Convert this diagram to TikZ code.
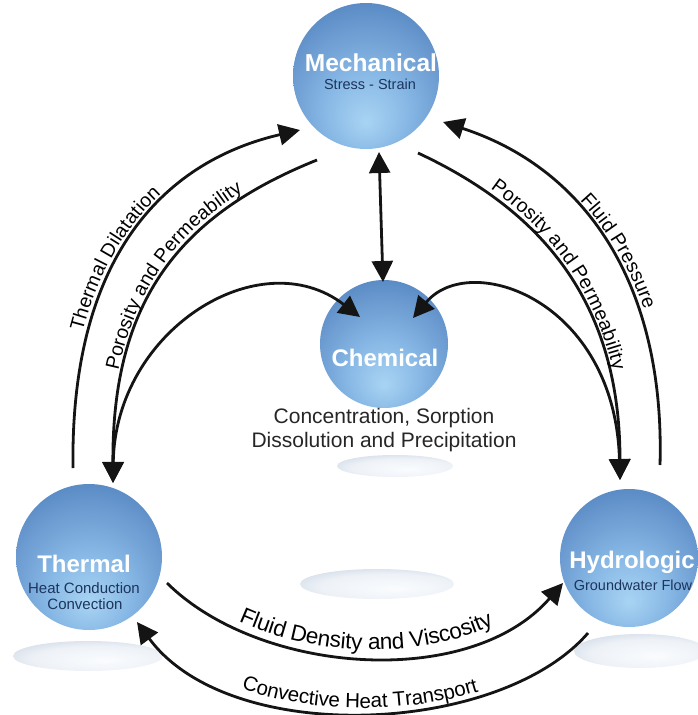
\documentclass[tikz,border=0pt]{standalone}
\usepackage{fontspec}
\setmainfont{Liberation Sans}
\usetikzlibrary{arrows.meta,calc,decorations.text}
\definecolor{sphA}{HTML}{A8D4F3}
\definecolor{sphB}{HTML}{88B8E5}
\definecolor{sphC}{HTML}{5A8AC4}
\definecolor{sphD}{HTML}{416EA8}
\definecolor{subcol}{HTML}{1C355E}
\definecolor{txtcol}{HTML}{262626}
\definecolor{shadA}{HTML}{BCC9DB}
\definecolor{shadB}{HTML}{FAFCFE}
\pgfdeclareradialshading{sphereshade}{\pgfpoint{0bp}{-16bp}}{color(0bp)=(sphA); color(14bp)=(sphB); color(34bp)=(sphC); color(52bp)=(sphD); color(70bp)=(sphD)}
\pgfdeclareradialshading{diskshade}{\pgfpoint{6bp}{-8bp}}{color(0bp)=(shadB); color(22bp)=(shadB!80!shadA); color(44bp)=(shadA); color(60bp)=(shadA)}
\newcommand\lblfont{\fontsize{19.5}{19.5}\selectfont}
\newcommand\lblfontb{\fontsize{22.5}{22.5}\selectfont}
\newcommand\lblfontc{\fontsize{20.5}{20.5}\selectfont}
\begin{document}
\begin{tikzpicture}[x=1pt,y=-1pt,
  sphere/.style={circle, shading=sphereshade, inner sep=0pt},
  shadowfill/.style={shading=diskshade},
  title/.style={text=white, font=\bfseries\fontsize{24}{24}\selectfont, inner sep=0pt, anchor=base},
  subt/.style={text=subcol, font=\fontsize{14.5}{14.5}\selectfont, inner sep=0pt, anchor=base},
  body/.style={text=txtcol, font=\fontsize{21}{21}\selectfont, inner sep=0pt, anchor=base},
  conn/.style={line width=2.8pt, draw=black!92, -{Triangle[length=21pt,width=21pt]}},
  conn2/.style={line width=2.8pt, draw=black!92, {Triangle[length=21pt,width=21pt]}-{Triangle[length=21pt,width=21pt]}},
  lbl/.style={decorate, decoration={text along path, raise=5pt, #1}}
]
\useasboundingbox (0,0) rectangle (697,715);
% shadows
\shade[shadowfill] (88,656) ellipse [x radius=75pt, y radius=15pt];
\shade[shadowfill] (640,651) ellipse [x radius=66pt, y radius=17pt];
\shade[shadowfill] (395,466) ellipse [x radius=58pt, y radius=11pt];
\shade[shadowfill] (377,584) ellipse [x radius=77pt, y radius=15pt];
% spheres
\node[sphere, minimum size=146pt] (mech) at (366,76) {};
\node[sphere, minimum size=128pt] (chem) at (384,344) {};
\node[sphere, minimum size=146pt] (therm) at (89,557) {};
\node[sphere, minimum size=138pt] (hydro) at (629,558) {};
% texts
\node[title, font=\bfseries\fontsize{24.5}{24.5}\selectfont] (mechT) at (371,71) {Mechanical};
\node[subt] (mechS) at (370,89) {Stress - Strain};
\node[title] (chemT) at (385,366) {Chemical};
\node[body] (chemD1) at (384,423) {Concentration, Sorption};
\node[body] (chemD2) at (384,447) {Dissolution and Precipitation};
\node[title] (thermT) at (84,572) {Thermal};
\node[subt, font=\fontsize{15}{15}\selectfont] (thermS1) at (84,593) {Heat Conduction};
\node[subt, font=\fontsize{15}{15}\selectfont] (thermS2) at (85,609) {Convection};
\node[title] (hydroT) at (632,568) {Hydrologic};
\node[subt] (hydroS) at (633,590) {Groundwater Flow};
% connectors
\draw[conn] ($(therm)+(-16,-89)$) .. controls (70,250) and (170,160) .. ($(mech)+(-66,54)$);
\draw[conn] ($(mech)+(-49,84)$) .. controls (180,215) and (112,300) .. ($(therm)+(24,-74)$);
\draw[conn2] ($(therm)+(24,-74)$) .. controls (115,330) and (260,240) .. ($(chem)+(-24,-27)$);
\draw[conn2] ($(chem)+(29,-26)$) .. controls (470,250) and (615,300) .. ($(hydro)+(-9,-78)$);
\draw[conn] ($(mech)+(52,77)$) .. controls (540,210) and (620,300) .. ($(hydro)+(-9,-78)$);
\draw[conn] ($(hydro)+(31,-93)$) .. controls (665,290) and (590,170) .. ($(mech)+(77,46)$);
\draw[conn2] ($(mech)+(13,76)$) -- ($(chem)+(-1,-62)$);
\draw[conn] ($(therm)+(78,26)$) .. controls (260,675) and (470,690) .. ($(hydro)+(-66,25)$);
\draw[conn] ($(hydro)+(-41,75)$) .. controls (500,735) and (230,748) .. ($(therm)+(48,65)$);
% labels along connectors
\path[lbl={text={|\lblfont|Thermal Dilatation}, text align={left indent=136pt}}]
  ($(therm)+(-16,-89)$) .. controls (70,250) and (170,160) .. ($(mech)+(-66,54)$);
\path[lbl={text={|\lblfont|Porosity and Permeability}, text align={left indent=112pt}}]
  ($(therm)+(24,-74)$) .. controls (112,300) and (180,215) .. ($(mech)+(-49,84)$);
\path[lbl={text={|\lblfont|Porosity and Permeability}, text align={left indent=80pt}}]
  ($(mech)+(52,77)$) .. controls (540,210) and (620,300) .. ($(hydro)+(-9,-78)$);
\path[lbl={text={|\lblfont|Fluid Pressure}, text align={left indent=158pt}}]
  ($(mech)+(77,46)$) .. controls (590,170) and (665,290) .. ($(hydro)+(31,-93)$);
\path[lbl={text={|\lblfontb|Fluid Density and Viscosity}, text align=center, raise=8pt}]
  ($(therm)+(78,26)$) .. controls (260,675) and (470,690) .. ($(hydro)+(-66,25)$);
\path[lbl={text={|\lblfontc|Convective Heat Transport}, text align=center}]
  ($(therm)+(48,65)$) .. controls (230,748) and (500,735) .. ($(hydro)+(-41,75)$);
\end{tikzpicture}
\end{document}
